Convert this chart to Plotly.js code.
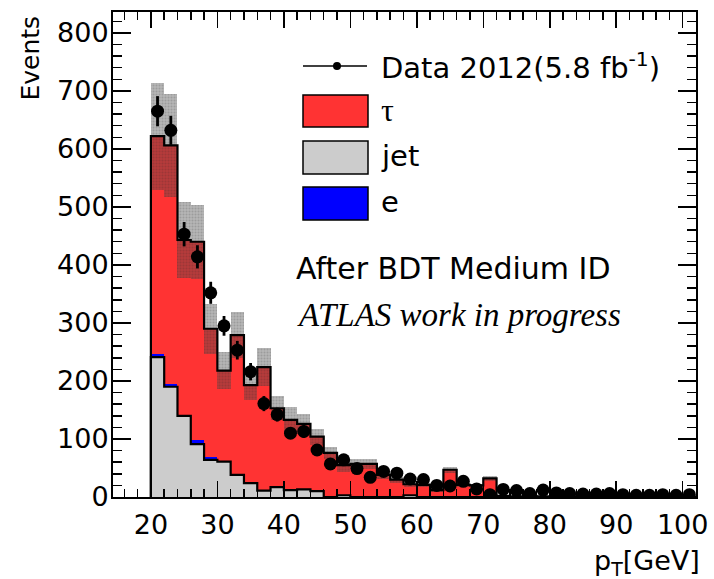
<!DOCTYPE html>
<html><head><meta charset="utf-8">
<script src="https://cdn.plot.ly/plotly-3.0.1.min.js"></script>
<style>html,body{margin:0;padding:0;background:#fff}</style>
</head><body><div id="chart" style="width:714px;height:579px"></div>
<script>
// ---- data ----
const binCenters = [21,23,25,27,29,31,33,35,37,39,41,43,45,47,49,51,53,55,57,59,61,63,65,67,69,71,73,75,77,79,81,83,85,87,89,91,93,95,97,99,101];
const jetEvents = [241,190,140,91,64,61,38,24,11,17,12,13,10,0,3,0,0,0,0,3,0,0,0,0,0,0,0,0,0,0,0,0,0,0,0,0,0,0,0,0,0];
const eEvents   = [6,5,1,7,5,1,0,0,0,0,0,0,0,0,0,0,0,0,0,0,0,0,0,0,0,0,0,0,0,0,0,0,0,0,0,0,0,0,0,0,0];
const tauEvents = [375,411,302,342,221,156,241,169,213,136,121,113,94,76,52,57,57,38,30,19,21,12,47,21,20,32,2,1,2,1,1,1,0,1,0,0,1,0,0,1,0];
const mcUncertainty = [92,89,66,64,43,32,40,25,33,21,22,17,14,11,12,8,8,7,5,4,4,3,5,3,3,4,1,1,1,1,1,1,1,1,1,1,1,1,1,1,1];
const dataEvents = [665,632,453,414,352,295,253,216,161,142,110,113,81,57,64,49,34,44,41,31,30,20,19,27,14,4,13,11,6,12,7,6,5,5,6,4,3,3,4,3,4];
const dataError  = [26,25,21,20,19,17,16,15,13,12,10,11,9,8,8,7,6,7,6,6,5,4,4,5,4,2,4,3,2,3,3,2,2,2,2,2,2,2,2,2,2];
const binWidth = 2;
const legendLabels = ['Data 2012(5.8 fb<sup>-1</sup>)', 'τ', 'jet', 'e'];

// ---- geometry helpers ----
const W = 714, H = 579, L = 113, R = 18, T = 12, B = 82;
const pw = W - L - R, ph = H - T - B;
const px = x => (x - L) / pw;
const py = y => (H - B - y) / ph;

const eTop = jetEvents.map((v, i) => v + eEvents[i]);
const mcTotal = eTop.map((v, i) => v + tauEvents[i]);
const bandBase = mcTotal.map((v, i) => v - mcUncertainty[i]);
const bandHeight = mcUncertainty.map(v => 2 * v);

function step(vals) {
  const n = vals.length;
  const xs = [binCenters[0] - binWidth / 2], ys = [0];
  vals.forEach((v, i) => { xs.push(binCenters[i] - binWidth / 2); ys.push(v); });
  xs.push(binCenters[n - 1] + binWidth / 2); ys.push(vals[n - 1]);
  return { xs, ys };
}
const jetStep = step(jetEvents);
const totStep = step(mcTotal);

const RED = '#ff3333', GRAY = '#cccccc', BLUE = '#0000ff';

const traces = [
  { type: 'bar', x: binCenters, y: jetEvents, width: binWidth, marker: { color: GRAY, line: { width: 0 } }, hoverinfo: 'skip' },
  { type: 'bar', x: binCenters, y: eEvents, base: jetEvents, width: binWidth, marker: { color: BLUE, line: { width: 0 } }, hoverinfo: 'skip' },
  { type: 'bar', x: binCenters, y: tauEvents, base: eTop, width: binWidth, marker: { color: RED, line: { width: 0 } }, hoverinfo: 'skip' },
  { type: 'bar', x: binCenters, y: bandHeight, base: bandBase, width: binWidth,
    marker: { color: 'rgba(70,70,70,0.40)', line: { width: 0 },
              pattern: { shape: '.', size: 3, solidity: 0.35, fgcolor: 'rgba(40,40,40,0.35)', fillmode: 'overlay' } }, hoverinfo: 'skip' },
  { type: 'scatter', mode: 'lines', x: jetStep.xs, y: jetStep.ys, line: { shape: 'hv', color: 'black', width: 2.2 }, hoverinfo: 'skip' },
  { type: 'scatter', mode: 'lines', x: totStep.xs, y: totStep.ys, line: { shape: 'hv', color: 'black', width: 2.2 }, hoverinfo: 'skip' },
  { type: 'scatter', mode: 'markers', x: binCenters, y: dataEvents,
    marker: { color: 'black', size: 13, symbol: 'circle' },
    error_y: { type: 'data', array: dataError, visible: true, color: 'black', thickness: 2.8, width: 0 }, hoverinfo: 'skip' }
];

const SANS = 'DejaVu Sans, Liberation Sans, Arial';
const tickFont = { family: SANS, size: 27, color: 'black' };
const shapes = [
  { type: 'line', xref: 'paper', yref: 'paper', x0: px(303), x1: px(367), y0: py(66), y1: py(66), line: { color: 'black', width: 1.5 } },
  { type: 'circle', xref: 'paper', yref: 'paper', x0: px(333), x1: px(341), y0: py(70), y1: py(62), fillcolor: 'black', line: { color: 'black', width: 0 } },
  { type: 'rect', xref: 'paper', yref: 'paper', x0: px(303), x1: px(368), y0: py(127), y1: py(95), fillcolor: RED, line: { color: 'black', width: 1.5 } },
  { type: 'rect', xref: 'paper', yref: 'paper', x0: px(303), x1: px(368), y0: py(174), y1: py(141), fillcolor: GRAY, line: { color: 'black', width: 1.5 } },
  { type: 'rect', xref: 'paper', yref: 'paper', x0: px(303), x1: px(368), y0: py(220), y1: py(187), fillcolor: BLUE, line: { color: 'black', width: 1.5 } }
];
const txtFont = { family: SANS, size: 29, color: 'black' };
const annotations = [
  { xref: 'paper', yref: 'paper', x: px(379), y: py(66), xanchor: 'left', yanchor: 'middle', text: legendLabels[0], showarrow: false, font: txtFont },
  { xref: 'paper', yref: 'paper', x: px(379), y: py(110), xanchor: 'left', yanchor: 'middle', text: legendLabels[1], showarrow: false, font: { family: 'Liberation Serif, serif', size: 32, color: 'black' } },
  { xref: 'paper', yref: 'paper', x: px(379), y: py(156), xanchor: 'left', yanchor: 'middle', text: legendLabels[2], showarrow: false, font: txtFont },
  { xref: 'paper', yref: 'paper', x: px(379), y: py(202), xanchor: 'left', yanchor: 'middle', text: legendLabels[3], showarrow: false, font: txtFont },
  { xref: 'paper', yref: 'paper', x: px(294), y: py(268), xanchor: 'left', yanchor: 'middle', text: 'After BDT Medium ID', showarrow: false, font: { family: SANS, size: 30, color: 'black' } },
  { xref: 'paper', yref: 'paper', x: px(295), y: py(315), xanchor: 'left', yanchor: 'middle', text: '<i>ATLAS work in progress</i>', showarrow: false, font: { family: 'Liberation Serif, Times New Roman, serif', size: 33, color: 'black' } },
  { xref: 'paper', yref: 'paper', x: px(30), y: py(14), xanchor: 'center', yanchor: 'top', textangle: -90, text: 'Events', showarrow: false, font: { family: SANS, size: 25, color: 'black' } },
  { xref: 'paper', yref: 'paper', x: px(702), y: py(562), xanchor: 'right', yanchor: 'middle', text: 'p<sub>T</sub>[GeV]', showarrow: false, font: { family: SANS, size: 27, color: 'black' } }
];

const layout = {
  width: W, height: H,
  margin: { l: L, r: R, t: T, b: B, pad: 0 },
  paper_bgcolor: 'white', plot_bgcolor: 'white',
  showlegend: false, barmode: 'overlay', bargap: 0,
  xaxis: {
    range: [14.3, 102], tick0: 0, dtick: 10, ticks: 'inside', ticklen: 16, tickwidth: 1.5, tickcolor: 'black',
    showline: true, linewidth: 2, linecolor: 'black', mirror: 'ticks', showgrid: false, zeroline: false,
    tickfont: tickFont, ticklabelstandoff: 3,
    minor: { dtick: 2, ticks: 'inside', ticklen: 8, tickwidth: 1.5, tickcolor: 'black', showgrid: false }
  },
  yaxis: {
    range: [0, 836], tick0: 0, dtick: 100, ticks: 'inside', ticklen: 18, tickwidth: 1.5, tickcolor: 'black',
    showline: true, linewidth: 2, linecolor: 'black', mirror: 'ticks', showgrid: false, zeroline: false,
    tickfont: tickFont, ticklabelstandoff: -3,
    minor: { dtick: 20, ticks: 'inside', ticklen: 9, tickwidth: 1.5, tickcolor: 'black', showgrid: false }
  },
  shapes: shapes,
  annotations: annotations
};

Plotly.newPlot('chart', traces, layout, { displayModeBar: false, staticPlot: true });
</script>
</body></html>
